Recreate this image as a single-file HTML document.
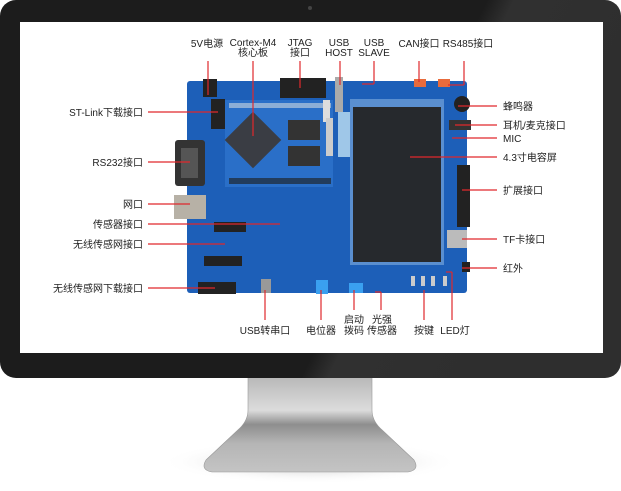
<!DOCTYPE html>
<html><head><meta charset="utf-8"><style>
html,body{margin:0;padding:0;background:#fff;width:621px;height:491px;overflow:hidden}
svg{display:block}
text{font-family:"Liberation Sans","Noto Sans CJK SC",sans-serif;font-size:10px;fill:#222}
</style></head><body>
<svg width="621" height="491" viewBox="0 0 621 491" xmlns="http://www.w3.org/2000/svg">
<defs>
<linearGradient id="st" x1="0" y1="0" x2="0" y2="1">
<stop offset="0" stop-color="#b8b8b8"/><stop offset="0.35" stop-color="#dcdcdc"/><stop offset="0.5" stop-color="#8e8e8e"/><stop offset="0.7" stop-color="#b5b5b5"/><stop offset="1" stop-color="#c4c4c4"/></linearGradient>
<radialGradient id="sh" cx="0.5" cy="0.5" r="0.5"><stop offset="0" stop-color="#999" stop-opacity="0.7"/><stop offset="1" stop-color="#fff" stop-opacity="0"/></radialGradient>
<linearGradient id="bz" x1="0" y1="0" x2="1" y2="0.3"><stop offset="0.72" stop-color="#1c1c1c"/><stop offset="0.76" stop-color="#303030"/><stop offset="1" stop-color="#2e2e2e"/></linearGradient>
</defs>
<ellipse cx="310" cy="462" rx="150" ry="22" fill="url(#sh)"/>
<path d="M248 377 L372 377 L372 410 Q372 420 380 428 L414 460 Q420 470 408 472 L212 472 Q200 470 206 460 L240 428 Q248 420 248 410 Z" fill="url(#st)" stroke="#999" stroke-width="0.6"/>
<rect x="0" y="0" width="621" height="378" rx="16" fill="url(#bz)"/>
<circle cx="310" cy="8" r="2" fill="#444"/>
<rect x="20" y="22" width="583" height="331" fill="#fff"/>
<!-- board -->
<rect x="187" y="81" width="280" height="212" rx="3" fill="#1d5fb8"/>
<rect x="225" y="100" width="108" height="87" fill="#2a6fc8"/>
<rect x="233" y="120" width="40" height="40" fill="#3a3d44" transform="rotate(45 253 140)"/>
<rect x="288" y="120" width="32" height="20" fill="#333"/>
<rect x="288" y="146" width="32" height="20" fill="#333"/>
<rect x="229" y="103" width="102" height="5" fill="#d0d8e0" opacity="0.6"/>
<rect x="229" y="178" width="102" height="6" fill="#20262e" opacity="0.7"/>
<rect x="280" y="78" width="46" height="20" fill="#222"/>
<rect x="203" y="79" width="14" height="18" fill="#222"/>
<rect x="211" y="99" width="14" height="30" fill="#222"/>
<rect x="175" y="140" width="30" height="46" rx="3" fill="#333"/>
<rect x="181" y="148" width="17" height="30" fill="#555"/>
<rect x="174" y="195" width="32" height="24" fill="#b7b1a6"/>
<rect x="214" y="222" width="32" height="10" fill="#222"/>
<rect x="204" y="256" width="38" height="10" fill="#222"/>
<rect x="198" y="282" width="38" height="12" fill="#222"/>
<rect x="335" y="77" width="8" height="35" fill="#aaa"/>
<rect x="338" y="112" width="12" height="45" fill="#9fc7e8"/>
<rect x="323" y="100" width="7" height="22" fill="#ddd"/>
<rect x="326" y="118" width="7" height="38" fill="#ccc"/>
<rect x="414" y="79" width="12" height="8" fill="#e86b3c"/>
<rect x="438" y="79" width="12" height="8" fill="#e86b3c"/>
<circle cx="462" cy="104" r="8" fill="#222"/>
<rect x="449" y="120" width="22" height="10" fill="#333"/>
<rect x="457" y="165" width="13" height="62" fill="#222"/>
<rect x="447" y="230" width="20" height="18" fill="#bbb"/>
<rect x="462" y="262" width="8" height="10" fill="#222"/>
<rect x="350" y="99" width="94" height="166" fill="#5a8fd0"/>
<rect x="353" y="107" width="88" height="155" fill="#26292d"/>
<rect x="316" y="280" width="12" height="14" fill="#3aa0f0"/>
<rect x="349" y="283" width="14" height="10" fill="#3aa0f0"/>
<rect x="261" y="279" width="10" height="14" fill="#999"/>
<rect x="411" y="276" width="4" height="10" fill="#ccc"/><rect x="421" y="276" width="4" height="10" fill="#ccc"/><rect x="431" y="276" width="4" height="10" fill="#ccc"/><rect x="443" y="276" width="4" height="10" fill="#ccc"/>
<!-- connector lines -->
<g stroke="#e0282c" stroke-width="1.2">
<line x1="208" y1="61" x2="208" y2="95"/>
<line x1="253" y1="61" x2="253" y2="136"/>
<line x1="300" y1="61" x2="300" y2="88"/>
<line x1="340" y1="61" x2="340" y2="85"/>
<line x1="374" y1="61" x2="374" y2="84"/><line x1="374" y1="84" x2="362" y2="84"/>
<line x1="419" y1="61" x2="419" y2="82"/>
<line x1="464" y1="61" x2="464" y2="85"/><line x1="464" y1="85" x2="448" y2="85"/>
<line x1="148" y1="112" x2="218" y2="112"/>
<line x1="148" y1="162" x2="190" y2="162"/>
<line x1="148" y1="204" x2="190" y2="204"/>
<line x1="148" y1="224" x2="280" y2="224"/>
<line x1="148" y1="244" x2="225" y2="244"/>
<line x1="148" y1="288" x2="215" y2="288"/>
<line x1="458" y1="106" x2="497" y2="106"/>
<line x1="455" y1="125" x2="497" y2="125"/>
<line x1="452" y1="138" x2="497" y2="138"/>
<line x1="410" y1="157" x2="497" y2="157"/>
<line x1="462" y1="190" x2="497" y2="190"/>
<line x1="462" y1="239" x2="497" y2="239"/>
<line x1="462" y1="268" x2="497" y2="268"/>
<line x1="265" y1="290" x2="265" y2="320"/>
<line x1="321" y1="290" x2="321" y2="320"/>
<line x1="354" y1="290" x2="354" y2="310"/>
<line x1="381" y1="292" x2="381" y2="310"/><line x1="375" y1="292" x2="381" y2="292"/>
<line x1="424" y1="290" x2="424" y2="320"/>
<line x1="452" y1="272" x2="452" y2="320"/><line x1="446" y1="272" x2="452" y2="272"/>
</g>
<!-- labels -->
<g text-anchor="middle">
<text x="207" y="47">5V电源</text>
<text x="253" y="46">Cortex-M4</text><text x="253" y="56">核心板</text>
<text x="300" y="46">JTAG</text><text x="300" y="56">接口</text>
<text x="339" y="46">USB</text><text x="339" y="56">HOST</text>
<text x="374" y="46">USB</text><text x="374" y="56">SLAVE</text>
<text x="419" y="47">CAN接口</text>
<text x="468" y="47">RS485接口</text>
<text x="265" y="334">USB转串口</text>
<text x="321" y="334">电位器</text>
<text x="354" y="323">启动</text><text x="354" y="334">拨码</text>
<text x="382" y="323">光强</text><text x="382" y="334">传感器</text>
<text x="424" y="334">按键</text>
<text x="455" y="334">LED灯</text>
</g>
<g text-anchor="end">
<text x="143" y="116">ST-Link下载接口</text>
<text x="143" y="166">RS232接口</text>
<text x="143" y="208">网口</text>
<text x="143" y="228">传感器接口</text>
<text x="143" y="248">无线传感网接口</text>
<text x="143" y="292">无线传感网下载接口</text>
</g>
<g>
<text x="503" y="110">蜂鸣器</text>
<text x="503" y="129">耳机/麦克接口</text>
<text x="503" y="142">MIC</text>
<text x="503" y="161">4.3寸电容屏</text>
<text x="503" y="194">扩展接口</text>
<text x="503" y="243">TF卡接口</text>
<text x="503" y="272">红外</text>
</g>
</svg>
</body></html>
